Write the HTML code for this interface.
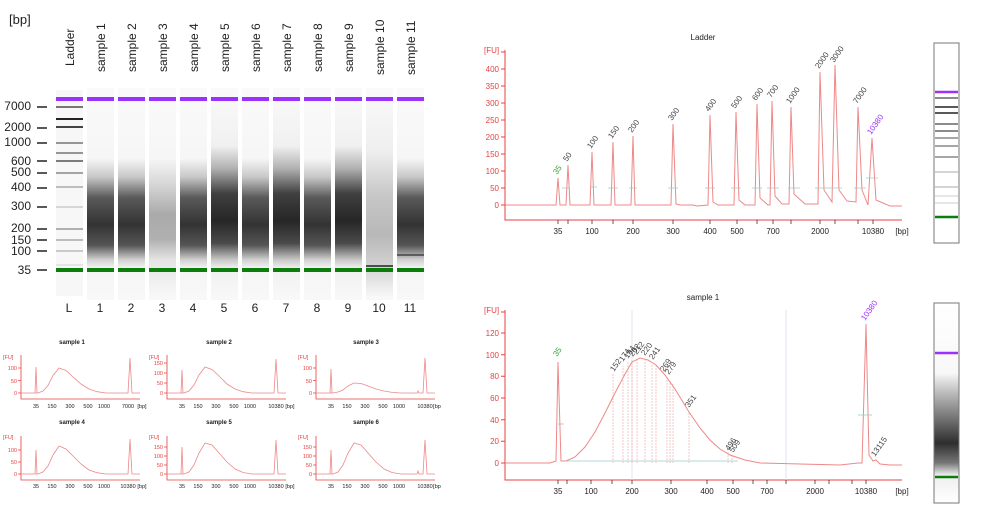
<!DOCTYPE html>
<html><head><meta charset="utf-8"><style>
html,body{margin:0;padding:0;background:#fff;}
svg{display:block;font-family:"Liberation Sans",sans-serif;}
</style></head><body>
<svg width="981" height="511" viewBox="0 0 981 511" xmlns="http://www.w3.org/2000/svg">
<defs>
<linearGradient id="gN" gradientUnits="userSpaceOnUse" x1="0" y1="90" x2="0" y2="297">
<stop offset="0" stop-color="#fafafa"/><stop offset="0.33" stop-color="#f6f6f6"/><stop offset="0.42" stop-color="#c8c8c8"/><stop offset="0.52" stop-color="#5a5a5a"/><stop offset="0.65" stop-color="#333"/><stop offset="0.75" stop-color="#555"/><stop offset="0.82" stop-color="#d0d0d0"/><stop offset="0.86" stop-color="#f4f4f4"/><stop offset="1" stop-color="#f8f8f8"/></linearGradient>
<linearGradient id="gS" gradientUnits="userSpaceOnUse" x1="0" y1="90" x2="0" y2="297">
<stop offset="0" stop-color="#fafafa"/><stop offset="0.27" stop-color="#f0f0f0"/><stop offset="0.38" stop-color="#b0b0b0"/><stop offset="0.5" stop-color="#404040"/><stop offset="0.63" stop-color="#262626"/><stop offset="0.74" stop-color="#4a4a4a"/><stop offset="0.82" stop-color="#c8c8c8"/><stop offset="0.86" stop-color="#f0f0f0"/><stop offset="1" stop-color="#f8f8f8"/></linearGradient>
<linearGradient id="gL" gradientUnits="userSpaceOnUse" x1="0" y1="90" x2="0" y2="297">
<stop offset="0" stop-color="#fafafa"/><stop offset="0.33" stop-color="#f6f6f6"/><stop offset="0.45" stop-color="#d8d8d8"/><stop offset="0.6" stop-color="#aaa"/><stop offset="0.72" stop-color="#b0b0b0"/><stop offset="0.82" stop-color="#e4e4e4"/><stop offset="1" stop-color="#f8f8f8"/></linearGradient>
<linearGradient id="gV" gradientUnits="userSpaceOnUse" x1="0" y1="90" x2="0" y2="297">
<stop offset="0" stop-color="#fafafa"/><stop offset="0.3" stop-color="#eee"/><stop offset="0.5" stop-color="#c8c8c8"/><stop offset="0.7" stop-color="#b8b8b8"/><stop offset="0.84" stop-color="#d0d0d0"/><stop offset="1" stop-color="#f8f8f8"/></linearGradient>
<linearGradient id="gR" x1="0" y1="0" x2="0" y2="1">
<stop offset="0" stop-color="#fff"/><stop offset="0.35" stop-color="#f8f8f8"/><stop offset="0.45" stop-color="#bbb"/><stop offset="0.7" stop-color="#2e2e2e"/><stop offset="0.8" stop-color="#777"/><stop offset="0.86" stop-color="#eee"/><stop offset="1" stop-color="#fff"/></linearGradient>
</defs>

<!-- GEL -->
<text x="9" y="24" font-size="13" fill="#222">[bp]</text>
<g font-size="12" fill="#222">
<text transform="translate(74,66) rotate(-90)">Ladder</text>
<text transform="translate(105,72) rotate(-90)">sample 1</text>
<text transform="translate(136,72) rotate(-90)">sample 2</text>
<text transform="translate(167,72) rotate(-90)">sample 3</text>
<text transform="translate(198,72) rotate(-90)">sample 4</text>
<text transform="translate(229,72) rotate(-90)">sample 5</text>
<text transform="translate(260,72) rotate(-90)">sample 6</text>
<text transform="translate(291,72) rotate(-90)">sample 7</text>
<text transform="translate(322,72) rotate(-90)">sample 8</text>
<text transform="translate(353,72) rotate(-90)">sample 9</text>
<text transform="translate(384,75) rotate(-90)">sample 10</text>
<text transform="translate(415,75) rotate(-90)">sample 11</text>
</g>
<g font-size="12" fill="#222" text-anchor="end">
<text x="31" y="110">7000</text><text x="31" y="131">2000</text><text x="31" y="146">1000</text>
<text x="31" y="165">600</text><text x="31" y="176">500</text><text x="31" y="191">400</text>
<text x="31" y="210">300</text><text x="31" y="232">200</text><text x="31" y="244">150</text>
<text x="31" y="255">100</text><text x="31" y="274">35</text>
</g>
<g stroke="#222" stroke-width="1.5">
<path d="M37 107H47M37 128H47M37 143H47M37 161H47M37 173H47M37 188H47M37 207H47M37 229H47M37 240H47M37 251H47M37 270H47"/>
</g>
<rect x="56" y="90" width="27" height="206" fill="#f7f7f7"/>
<rect x="87" y="88" width="27" height="212" fill="url(#gN)"/>
<rect x="118" y="88" width="27" height="212" fill="url(#gN)"/>
<rect x="149" y="88" width="27" height="212" fill="url(#gL)"/>
<rect x="180" y="88" width="27" height="212" fill="url(#gN)"/>
<rect x="211" y="88" width="27" height="212" fill="url(#gS)"/>
<rect x="242" y="88" width="27" height="212" fill="url(#gN)"/>
<rect x="273" y="88" width="27" height="212" fill="url(#gS)"/>
<rect x="304" y="88" width="27" height="212" fill="url(#gN)"/>
<rect x="335" y="88" width="27" height="212" fill="url(#gS)"/>
<rect x="366" y="88" width="27" height="212" fill="url(#gV)"/>
<rect x="397" y="88" width="27" height="212" fill="url(#gN)"/>
<g stroke-width="1.5">
<path d="M56 107H83" stroke="#777" stroke-width="2"/>
<path d="M56 119H83" stroke="#222" stroke-width="2"/>
<path d="M56 127H83" stroke="#444" stroke-width="2"/>
<path d="M56 143H83" stroke="#777"/>
<path d="M56 153H83" stroke="#777"/>
<path d="M56 161H83" stroke="#555"/>
<path d="M56 173H83" stroke="#888"/>
<path d="M56 187H83" stroke="#aaa"/>
<path d="M56 207H83" stroke="#ccc"/>
<path d="M56 229H83" stroke="#999"/>
<path d="M56 240H83" stroke="#aaa"/>
<path d="M56 251H83" stroke="#bbb"/>
<path d="M56 265H83" stroke="#ddd"/>
<path d="M366 266H393" stroke="#222"/>
<path d="M397 255H424" stroke="#444"/>
</g>
<g fill="#9b30ff"><rect x="56" y="97" width="27" height="4"/><rect x="87" y="97" width="27" height="4"/><rect x="118" y="97" width="27" height="4"/><rect x="149" y="97" width="27" height="4"/><rect x="180" y="97" width="27" height="4"/><rect x="211" y="97" width="27" height="4"/><rect x="242" y="97" width="27" height="4"/><rect x="273" y="97" width="27" height="4"/><rect x="304" y="97" width="27" height="4"/><rect x="335" y="97" width="27" height="4"/><rect x="366" y="97" width="27" height="4"/><rect x="397" y="97" width="27" height="4"/></g>
<g fill="#0b7d0b"><rect x="56" y="268" width="27" height="4"/><rect x="87" y="268" width="27" height="4"/><rect x="118" y="268" width="27" height="4"/><rect x="149" y="268" width="27" height="4"/><rect x="180" y="268" width="27" height="4"/><rect x="211" y="268" width="27" height="4"/><rect x="242" y="268" width="27" height="4"/><rect x="273" y="268" width="27" height="4"/><rect x="304" y="268" width="27" height="4"/><rect x="335" y="268" width="27" height="4"/><rect x="366" y="268" width="27" height="4"/><rect x="397" y="268" width="27" height="4"/></g>
<g font-size="12" fill="#222" text-anchor="middle">
<text x="69" y="312">L</text><text x="100" y="312">1</text><text x="131" y="312">2</text><text x="162" y="312">3</text><text x="193" y="312">4</text><text x="224" y="312">5</text><text x="255" y="312">6</text><text x="286" y="312">7</text><text x="317" y="312">8</text><text x="348" y="312">9</text><text x="379" y="312">10</text><text x="410" y="312">11</text>
</g>

<!-- SMALL PANELS -->
<g font-size="6" font-weight="bold" fill="#222" text-anchor="middle">
<text x="72" y="344">sample 1</text><text x="219" y="344">sample 2</text><text x="366" y="344">sample 3</text>
<text x="72" y="424">sample 4</text><text x="219" y="424">sample 5</text><text x="366" y="424">sample 6</text>
</g>
<g transform="translate(21,393)">
<path d="M0 -38V6H119M-3 0H0M-3 -12.5H0M-3 -25H0" stroke="#e84040" stroke-width="0.8" fill="none"/>
<path d="M0 0H17L22 -2L27 -7.5L32 -17.5L38 -25L45 -22.5L52 -16L60 -9L68 -4L76 -1.3L85 0H107L109 -35L111 0H119" stroke="#e88" stroke-width="0.8" fill="none"/>
<path d="M14 0L15 -26L16 0" stroke="#e88" stroke-width="0.8" fill="none"/>
</g>
<g transform="translate(167,393)">
<path d="M0 -38V6H119M-3 0H0M-3 -10H0M-3 -20H0M-3 -30H0" stroke="#e84040" stroke-width="0.8" fill="none"/>
<path d="M0 0H17L22 -2L27 -8L32 -18L38 -26L45 -23.5L52 -17L60 -9L68 -4L76 -1.3L85 0H107L109 -34L111 0H119" stroke="#e88" stroke-width="0.8" fill="none"/>
<path d="M14 0L15 -23L16 0" stroke="#e88" stroke-width="0.8" fill="none"/>
</g>
<g transform="translate(316,393)">
<path d="M0 -38V6H119M-3 0H0M-3 -12.5H0M-3 -25H0" stroke="#e84040" stroke-width="0.8" fill="none"/>
<path d="M0 0H17L22 -1L27 -3L32 -7L38 -10L45 -9.5L52 -7L60 -4L68 -2L76 -0.6L85 0H101L102 -2L103 0H107L109 -35L111 0H119" stroke="#e88" stroke-width="0.8" fill="none"/>
<path d="M14 0L15 -24L16 0" stroke="#e88" stroke-width="0.8" fill="none"/>
</g>
<g transform="translate(21,474)">
<path d="M0 -38V6H119M-3 0H0M-3 -12H0M-3 -24H0" stroke="#e84040" stroke-width="0.8" fill="none"/>
<path d="M0 0H17L22 -2L27 -8L32 -19L38 -28L45 -25L52 -18L60 -10L68 -4L76 -1.3L85 0H107L109 -35L111 0H119" stroke="#e88" stroke-width="0.8" fill="none"/>
<path d="M14 0L15 -24L16 0" stroke="#e88" stroke-width="0.8" fill="none"/>
</g>
<g transform="translate(167,474)">
<path d="M0 -38V6H119M-3 0H0M-3 -9H0M-3 -18H0M-3 -27H0" stroke="#e84040" stroke-width="0.8" fill="none"/>
<path d="M0 0H17L22 -2L27 -9L32 -21L38 -31L45 -29L52 -21L60 -12L68 -5L76 -1.5L85 0H107L109 -34L111 0H119" stroke="#e88" stroke-width="0.8" fill="none"/>
<path d="M14 0L15 -27L16 0" stroke="#e88" stroke-width="0.8" fill="none"/>
</g>
<g transform="translate(316,474)">
<path d="M0 -38V6H119M-3 0H0M-3 -9H0M-3 -18H0M-3 -27H0" stroke="#e84040" stroke-width="0.8" fill="none"/>
<path d="M0 0H17L22 -2L27 -9L32 -21L38 -31L45 -29L52 -21L60 -12L68 -5L76 -1.5L85 0H101L102 -3L103 0H107L109 -34L111 0H119" stroke="#e88" stroke-width="0.8" fill="none"/>
<path d="M14 0L15 -24L16 0" stroke="#e88" stroke-width="0.8" fill="none"/>
</g>
<g font-size="5.5" fill="#e84040">
<text x="3" y="359">[FU]</text><text x="149" y="359">[FU]</text><text x="298" y="359">[FU]</text>
<text x="3" y="439">[FU]</text><text x="149" y="439">[FU]</text><text x="298" y="439">[FU]</text>
</g>
<g font-size="5.5" fill="#e84040" text-anchor="end">
<text x="17" y="395">0</text><text x="17" y="383">50</text><text x="17" y="370">100</text>
<text x="163" y="395">0</text><text x="163" y="385">50</text><text x="163" y="375">100</text><text x="163" y="365">150</text>
<text x="312" y="395">0</text><text x="312" y="383">50</text><text x="312" y="370">100</text>
<text x="17" y="476">0</text><text x="17" y="464">50</text><text x="17" y="452">100</text>
<text x="163" y="476">0</text><text x="163" y="467">50</text><text x="163" y="458">100</text><text x="163" y="449">150</text>
<text x="312" y="476">0</text><text x="312" y="467">50</text><text x="312" y="458">100</text><text x="312" y="449">150</text>
</g>
<g font-size="5.5" fill="#222" text-anchor="middle">
<text x="36" y="408">35</text><text x="52" y="408">150</text><text x="70" y="408">300</text><text x="88" y="408">500</text><text x="104" y="408">1000</text><text x="128" y="408">7000</text><text x="142" y="408">[bp]</text>
<text x="182" y="408">35</text><text x="198" y="408">150</text><text x="216" y="408">300</text><text x="234" y="408">500</text><text x="250" y="408">1000</text><text x="276" y="408">10380</text><text x="290" y="408">[bp]</text>
<text x="331" y="408">35</text><text x="347" y="408">150</text><text x="365" y="408">300</text><text x="383" y="408">500</text><text x="399" y="408">1000</text><text x="425" y="408">10380</text><text x="437" y="408">[bp</text>
<text x="36" y="488">35</text><text x="52" y="488">150</text><text x="70" y="488">300</text><text x="88" y="488">500</text><text x="104" y="488">1000</text><text x="128" y="488">10380</text><text x="142" y="488">[bp]</text>
<text x="182" y="488">35</text><text x="198" y="488">150</text><text x="216" y="488">300</text><text x="234" y="488">500</text><text x="250" y="488">1000</text><text x="276" y="488">10380</text><text x="290" y="488">[bp]</text>
<text x="331" y="488">35</text><text x="347" y="488">150</text><text x="365" y="488">300</text><text x="383" y="488">500</text><text x="399" y="488">1000</text><text x="425" y="488">10380</text><text x="437" y="488">[bp</text>
</g>

<!-- LADDER CHART -->
<text x="703" y="40" font-size="8" fill="#222" text-anchor="middle">Ladder</text>
<text x="484" y="53" font-size="8" fill="#e84040">[FU]</text>
<path d="M505 50V220H902M501 205H505M501 188H505M501 171H505M501 154H505M501 137H505M501 120H505M501 103H505M501 86H505M501 69H505M501 52H505" stroke="#e84040" stroke-width="1" fill="none"/>
<g font-size="8" fill="#e84040" text-anchor="end">
<text x="499" y="208">0</text><text x="499" y="191">50</text><text x="499" y="174">100</text><text x="499" y="157">150</text><text x="499" y="140">200</text><text x="499" y="123">250</text><text x="499" y="106">300</text><text x="499" y="89">350</text><text x="499" y="72">400</text>
</g>
<path d="M558 220v4M568 220v4M592 220v4M613 220v4M633 220v4M673 220v4M710 220v4M737 220v4M757 220v4M773 220v4M791 220v4M820 220v4M835 220v4M858 220v4M873 220v4" stroke="#333" stroke-width="0.8"/>
<g font-size="8" fill="#222" text-anchor="middle">
<text x="558" y="234">35</text><text x="592" y="234">100</text><text x="633" y="234">200</text><text x="673" y="234">300</text><text x="710" y="234">400</text><text x="737" y="234">500</text><text x="773" y="234">700</text><text x="820" y="234">2000</text><text x="873" y="234">10380</text><text x="902" y="234">[bp]</text>
</g>
<path d="M505 205H556L558 178L560 205H566L568 165L570 205H590L592 152L594 205H611L613 142L615 205H631L633 136L635 205H671L673 124L676 204L680 205H693L697 206L708 205L710 115L713 202L718 205H734L736 112L739 200L745 205H755L757 104L760 198L768 205H770L772 101L775 196L782 204H789L791 107L794 194L805 204L818 204L820 72L824 190L832 202L835 65L839 190L847 201L856 202L858 107L862 190L868 205L872 138L876 200L890 206H902" stroke="#e88" stroke-width="1" fill="none"/>
<g stroke="#9cc" stroke-width="0.8"><path d="M562 188h8M591 187h6M608 188h10M629 188h8M668 188h10M705 188h10M731 188h10M752 188h10M767 188h12M788 188h12M815 188h22M830 188h12M854 188h12M866 178h12"/></g>
<g font-size="8" fill="#444">
<text transform="translate(557,175) rotate(-55)" fill="#3a3">35</text>
<text transform="translate(567,162) rotate(-55)">50</text>
<text transform="translate(591,149) rotate(-55)">100</text>
<text transform="translate(612,139) rotate(-55)">150</text>
<text transform="translate(632,133) rotate(-55)">200</text>
<text transform="translate(672,121) rotate(-55)">300</text>
<text transform="translate(709,112) rotate(-55)">400</text>
<text transform="translate(735,109) rotate(-55)">500</text>
<text transform="translate(756,101) rotate(-55)">600</text>
<text transform="translate(771,98) rotate(-55)">700</text>
<text transform="translate(790,104) rotate(-55)">1000</text>
<text transform="translate(819,69) rotate(-55)">2000</text>
<text transform="translate(834,63) rotate(-55)">3000</text>
<text transform="translate(857,104) rotate(-55)">7000</text>
<text transform="translate(871,135) rotate(-55)" fill="#9b30ff">10380</text>
</g>
<rect x="934" y="43" width="25" height="200" fill="#fff" stroke="#777" stroke-width="1"/>
<path d="M935 92h23" stroke="#9b30ff" stroke-width="2.5"/>
<g stroke-width="1.5"><path d="M935 98h23M935 124h23M935 131h23" stroke="#666"/><path d="M935 107h23M935 113h23" stroke="#222"/><path d="M935 138h23M935 146h23M935 157h23" stroke="#888"/><path d="M935 172h23M935 187h23" stroke="#aaa" stroke-width="1"/><path d="M935 196h23M935 203h23" stroke="#ddd"/><path d="M935 217h23" stroke="#0b7d0b" stroke-width="2.5"/></g>

<!-- SAMPLE 1 CHART -->
<text x="703" y="300" font-size="8" fill="#222" text-anchor="middle">sample 1</text>
<text x="484" y="313" font-size="8" fill="#e84040">[FU]</text>
<path d="M505 310V480H902M501 463H505M501 441.3H505M501 419.7H505M501 398H505M501 376.3H505M501 354.7H505M501 333H505M501 312H505" stroke="#e84040" stroke-width="1" fill="none"/>
<g font-size="8" fill="#e84040" text-anchor="end">
<text x="499" y="466">0</text><text x="499" y="444">20</text><text x="499" y="423">40</text><text x="499" y="401">60</text><text x="499" y="379">80</text><text x="499" y="358">100</text><text x="499" y="336">120</text>
</g>
<path d="M632 310V480M786 310V480" stroke="#dde" stroke-width="0.8"/>
<path d="M558 480v4M567 480v4M591 480v4M612 480v4M632 480v4M671 480v4M707 480v4M733 480v4M753 480v4M767 480v4M786 480v4M815 480v4M829 480v4M852 480v4M866 480v4" stroke="#333" stroke-width="0.8"/>
<g font-size="8" fill="#222" text-anchor="middle">
<text x="558" y="494">35</text><text x="591" y="494">100</text><text x="632" y="494">200</text><text x="671" y="494">300</text><text x="707" y="494">400</text><text x="733" y="494">500</text><text x="767" y="494">700</text><text x="815" y="494">2000</text><text x="866" y="494">10380</text><text x="902" y="494">[bp]</text>
</g>
<g stroke="#f0b0b0" stroke-width="0.7" stroke-dasharray="2 1"><path d="M613 463V374M623 463V366M628 463V362M632 463V360M637 463V358M645 463V360M652 463V364M656 463V366M667 463V378M670 463V381M673 463V384M689 463V412M728 463V452M732 463V455"/></g>
<path d="M563 461H738" stroke="#9cc" stroke-width="0.8"/>
<path d="M558 424h6" stroke="#9cc" stroke-width="0.8"/>
<path d="M505 463H550L556 461L558 362L561 461H566L575 457L585 447L595 432L605 413L615 393L625 374L632 362L640 358L648 360L656 365L665 375L675 389L689 412L700 428L710 440L720 449L730 455L745 460L760 463L800 464L840 465L858 463L862 463L866 324L869 455L873 461L876 460L880 464L890 465H902" stroke="#e88" stroke-width="1" fill="none"/>
<path d="M858 415h14" stroke="#9cc" stroke-width="0.8"/>
<g font-size="8" fill="#444">
<text transform="translate(557,357) rotate(-55)" fill="#3a3">35</text>
<text transform="translate(614,372) rotate(-55)">152</text>
<text transform="translate(623,362) rotate(-55)">174</text>
<text transform="translate(628,359) rotate(-55)">194</text>
<text transform="translate(633,357) rotate(-55)">202</text>
<text transform="translate(637,355) rotate(-55)">212</text>
<text transform="translate(645,356) rotate(-55)">220</text>
<text transform="translate(653,360) rotate(-55)">241</text>
<text transform="translate(664,372) rotate(-55)">269</text>
<text transform="translate(669,375) rotate(-55)">279</text>
<text transform="translate(689,408) rotate(-55)">351</text>
<text transform="translate(729,451) rotate(-55)">496</text>
<text transform="translate(733,453) rotate(-55)">509</text>
<text transform="translate(865,321) rotate(-55)" fill="#9b30ff">10380</text>
<text transform="translate(875,457) rotate(-55)">13115</text>
</g>
<rect x="934" y="303" width="25" height="200" fill="url(#gR)" stroke="#777" stroke-width="1"/>
<path d="M935 353h23" stroke="#9b30ff" stroke-width="2.5"/>
<path d="M935 477h23" stroke="#0b7d0b" stroke-width="2.5"/>
</svg>
</body></html>
